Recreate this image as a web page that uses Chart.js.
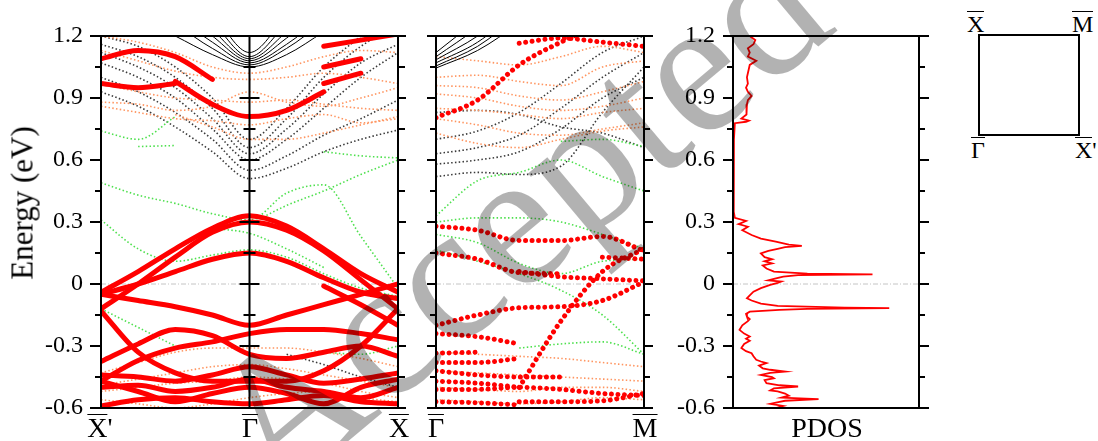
<!DOCTYPE html>
<html>
<head>
<meta charset="utf-8">
<script src="https://cdn.jsdelivr.net/npm/chart.js@4.4.1/dist/chart.umd.min.js"></script>
<style>
body { margin: 0; width: 1098px; height: 441px; overflow: hidden; background: #fff; position: relative; font-family: "Liberation Serif", serif; }
canvas { position: absolute; top: 0; }
.lab { position: absolute; font-size: 28px; line-height: 28px; color: #000; white-space: nowrap; transform: translateX(-50%); }
.bz { position: absolute; font-size: 24px; line-height: 24px; color: #000; white-space: nowrap; }
.ov { display: inline-block; position: relative; }
.lab .ov::before { content: ''; position: absolute; left: 0; right: 0; top: 0px; border-top: 1.6px solid #000; }
.bz .ov::before { content: ''; position: absolute; left: 0; right: 0; top: -1px; border-top: 1.5px solid #000; }
#ylab { position: absolute; left: 22px; top: 203px; font-size: 31px; line-height: 31px; white-space: nowrap; transform: translate(-50%, -50%) rotate(-90deg); }
#bzbox { position: absolute; left: 978px; top: 34px; width: 102px; height: 102px; box-sizing: border-box; border: 2.5px solid #000; }
#wm { position: absolute; left: 515px; top: 215px; font: 195px "Liberation Serif"; color: rgba(0,0,0,0.3); white-space: nowrap; transform: translate(-50%, -50%) rotate(-40deg); pointer-events: none; }
</style>
</head>
<body>
<canvas id="c1" style="left:0px" width="415" height="441"></canvas>
<canvas id="c2" style="left:415px" width="250" height="441"></canvas>
<canvas id="c3" style="left:665px" width="275" height="441"></canvas>

<div id="ylab">Energy (eV)</div>
<div class="lab" style="left:100px;top:414px"><span class="ov">X</span>'</div>
<div class="lab" style="left:250px;top:414px"><span class="ov">Γ</span></div>
<div class="lab" style="left:399px;top:414px"><span class="ov">X</span></div>
<div class="lab" style="left:436px;top:414px"><span class="ov">Γ</span></div>
<div class="lab" style="left:645px;top:414px"><span class="ov">M</span></div>
<div class="lab" style="left:827px;top:414px">PDOS</div>

<div id="bzbox"></div>
<div class="bz" style="left:967px;top:12px"><span class="ov">X</span></div>
<div class="bz" style="left:1072px;top:12px"><span class="ov">M</span></div>
<div class="bz" style="left:971px;top:138px"><span class="ov">Γ</span></div>
<div class="bz" style="left:1075px;top:138px"><span class="ov">X</span>'</div>

<div id="wm">Accepted</div>

<script>
var n = null;

// energy axis
var yTicks = [-0.6, -0.3, 0, 0.3, 0.6, 0.9, 1.2];
var yTickLabels = ['-0.6', '-0.3', '0', '0.3', '0.6', '0.9', '1.2'];

// X' - Gamma - X path
var kXGX = [-1, -0.75, -0.5, -0.25, 0, 0.25, 0.5, 0.75, 1];

var redXGX = [
    [-0.04, 0.06, 0.17, 0.27, 0.33, 0.28, 0.17, 0.05, -0.04],
    [-0.12, 0.0, 0.13, 0.25, 0.30, 0.26, 0.16, 0.02, -0.12],
    [-0.05, 0.0, 0.06, 0.12, 0.15, 0.11, 0.03, -0.04, -0.07],
    [-0.05, -0.08, -0.11, -0.15, -0.20, -0.15, -0.10, -0.05, 0.0],
    [-0.13, -0.33, -0.43, -0.47, -0.47, -0.47, -0.42, -0.30, -0.12],
    [-0.375, -0.29, -0.22, -0.25, -0.34, -0.36, -0.33, -0.30, -0.35],
    [-0.47, -0.37, -0.31, -0.28, -0.24, -0.22, -0.22, -0.24, -0.27],
    [n, n, n, n, n, n, -0.01, -0.10, -0.20],
    [-0.44, -0.45, -0.47, -0.44, -0.40, -0.44, -0.48, -0.46, -0.43],
    [-0.50, -0.49, -0.52, -0.50, -0.46, -0.50, -0.52, -0.55, -0.50],
    [-0.59, -0.56, -0.55, -0.57, -0.58, -0.56, -0.54, -0.57, -0.58],
    [-0.47, -0.52, -0.57, -0.53, -0.50, -0.53, -0.58, -0.50, -0.46],
    [n, n, 0.98, 0.87, 0.81, 0.84, 0.93, n, n],
    [1.09, 1.13, 1.10, 0.99, n, n, n, n, n],
    [0.97, 0.95, 0.97, n, n, n, n, n, n],
    [n, n, n, n, n, n, 1.15, 1.18, 1.21],
    [n, n, n, n, n, n, 1.05, 1.09, n],
    [n, n, n, n, n, n, 0.97, 1.02, n]
];

var blackLineXGX = [
    [n, n, 1.20, 1.11, 1.05, 1.11, 1.22, n, n],
    [n, n, 1.26, 1.14, 1.06, 1.14, 1.27, n, n],
    [n, n, 1.30, 1.17, 1.07, 1.16, 1.30, n, n],
    [n, n, 1.35, 1.20, 1.08, 1.19, 1.34, n, n],
    [n, n, 1.40, 1.23, 1.09, 1.22, 1.38, n, n],
    [n, n, 1.45, 1.27, 1.10, 1.26, 1.43, n, n],
    [n, n, 1.50, 1.31, 1.12, 1.30, 1.48, n, n]
];

var blackDotXGX = [
    [0.93, 0.86, 0.76, 0.64, 0.51, 0.56, 0.64, 0.70, 0.745],
    [1.00, 0.93, 0.83, 0.70, 0.55, 0.62, 0.72, 0.80, 0.89],
    [1.07, 1.00, 0.90, 0.75, 0.60, 0.70, 0.85, 1.00, 1.12],
    [1.12, 1.05, 0.95, 0.80, 0.63, 0.75, 0.92, 1.07, 1.16],
    [1.16, 1.10, 1.00, 0.85, 0.66, 0.80, 1.00, 1.15, 1.25],
    [1.20, 1.15, 1.05, 0.90, 0.70, 0.85, 1.05, 1.20, n],
    [n, n, n, n, n, -0.34, -0.39, -0.45, -0.50]
];

var orangeXGX = [
    [0.88, 0.87, 0.84, 0.86, 0.93, 0.88, 0.86, 0.90, 0.95],
    [0.86, 0.83, 0.80, 0.79, 0.77, 0.80, 0.82, 0.78, 0.80],
    [1.13, 1.08, 1.03, 1.00, 0.99, 1.00, 1.02, 1.00, 0.97],
    [1.20, 1.17, 1.12, 1.05, 1.02, 1.05, 1.10, 1.13, 1.12],
    [0.97, 0.93, 0.90, 0.89, 0.88, 0.89, 0.87, 0.85, 0.84],
    [n, n, 0.82, 0.76, 0.70, 0.70, 0.73, 0.77, 0.81],
    [-0.43, -0.38, -0.33, -0.31, -0.31, -0.31, -0.33, -0.36, -0.40],
    [-0.49, -0.46, -0.43, -0.40, -0.39, -0.41, -0.44, -0.47, -0.50],
    [-0.56, -0.58, -0.60, -0.58, -0.55, -0.53, -0.52, -0.55, -0.57],
    [-0.52, -0.50, -0.48, -0.47, -0.45, -0.46, -0.48, -0.52, -0.55]
];

var greenXGX = [
    [0.31, 0.17, 0.11, 0.14, 0.165, 0.13, 0.05, -0.02, -0.06],
    [0.49, 0.43, 0.39, 0.34, 0.31, 0.44, 0.48, 0.23, -0.02],
    [n, n, n, n, 0.29, 0.38, 0.45, 0.53, 0.60],
    [n, n, n, 0.27, 0.245, 0.17, 0.08, n, n],
    [0.74, 0.70, 0.81, n, n, n, n, n, n],
    [n, 0.665, 0.67, n, n, n, n, n, n],
    [-0.12, -0.21, -0.30, n, n, n, n, n, n],
    [n, n, n, n, n, n, -0.33, -0.34, -0.30],
    [n, n, n, n, n, n, 0.64, 0.62, 0.61]
];

// Gamma - M path
var kGM = [0, 0.2, 0.4, 0.6, 0.8, 1];

var redGM = [
    [0.28, 0.26, 0.21, 0.21, 0.23, 0.16],
    [0.15, 0.12, 0.055, 0.05, n, n],
    [n, n, 0.06, 0.035, 0.025, 0.015],
    [n, n, -0.50, -0.18, 0.06, 0.17],
    [-0.20, -0.15, -0.115, -0.11, -0.08, 0.01],
    [-0.24, -0.255, -0.29, n, n, n],
    [-0.335, -0.33, n, n, n, n],
    [-0.38, -0.38, -0.36, n, n, n],
    [-0.42, -0.44, -0.45, -0.45, n, n],
    [-0.51, -0.51, -0.50, -0.51, -0.53, -0.54],
    [-0.57, -0.575, -0.585, n, n, n],
    [n, n, -0.57, -0.57, -0.565, -0.53],
    [-0.47, -0.48, -0.50, n, n, n],
    [n, n, n, n, 0.13, 0.12],
    [0.805, 0.89, 1.06, 1.17, 1.26, n],
    [n, n, 1.165, 1.19, 1.17, 1.15]
];

var blackLineGM = [
    [1.045, 1.13, 1.26, n, n, n],
    [1.055, 1.15, 1.30, n, n, n],
    [1.07, 1.17, 1.33, n, n, n],
    [1.085, 1.20, 1.36, n, n, n],
    [1.10, 1.24, 1.40, n, n, n],
    [1.12, 1.28, 1.45, n, n, n]
];

var blackDotGM = [
    [0.52, 0.54, 0.53, 0.57, 0.83, 1.05],
    [0.83, 0.84, 0.82, 0.76, 0.73, 0.66],
    [0.58, 0.60, 0.64, 0.75, 0.90, 1.00],
    [0.63, 0.66, 0.72, 0.85, 1.00, 1.12],
    [0.70, 0.74, 0.83, 0.97, 1.12, 1.20]
];

var orangeGM = [
    [1.00, 1.01, 0.98, 0.96, 1.05, 1.08],
    [0.96, 0.95, 0.91, 0.89, 0.93, 0.98],
    [0.92, 0.90, 0.86, 0.84, 0.86, 0.90],
    [0.85, 0.84, 0.82, 0.80, 0.83, 0.85],
    [0.80, 0.77, 0.73, 0.72, 0.75, 0.78],
    [0.73, 0.68, 0.66, 0.70, 0.74, 0.76],
    [1.10, 1.08, 1.06, 1.10, 1.15, 1.12],
    [-0.33, -0.34, -0.35, -0.36, -0.38, -0.40],
    [-0.42, -0.43, -0.44, -0.45, -0.46, -0.47],
    [-0.50, -0.51, -0.52, -0.50, -0.50, -0.52],
    [-0.56, -0.57, -0.58, -0.57, -0.55, -0.56]
];

var greenGM = [
    [n, n, n, 0.69, 0.70, 0.665],
    [0.33, 0.50, 0.54, 0.60, 0.52, 0.45],
    [0.30, 0.32, 0.32, 0.30, 0.24, 0.17],
    [0.24, 0.20, 0.10, 0.05, 0.11, 0.12],
    [0.165, 0.11, 0.05, -0.03, -0.15, -0.34],
    [n, n, -0.31, -0.29, -0.28, -0.34]
];

// projected DOS (arbitrary units)
var pdosEnergy = [1.2, 1.18, 1.16, 1.14, 1.12, 1.10, 1.08, 1.06, 1.04, 1.0, 0.97, 0.95, 0.93, 0.91, 0.89, 0.87, 0.84, 0.82, 0.80, 0.79, 0.785, 0.778,
    0.7, 0.5, 0.35, 0.32, 0.305, 0.29, 0.277, 0.26, 0.237, 0.22, 0.205, 0.19, 0.184, 0.178, 0.17, 0.16, 0.148, 0.13, 0.12, 0.11, 0.10, 0.09, 0.075, 0.06,
    0.05, 0.047, 0.043, 0.036, 0.025, 0.018, 0.012, 0.005, -0.004, -0.02, -0.037, -0.055, -0.069, -0.08, -0.095, -0.106, -0.114, -0.117, -0.12, -0.125,
    -0.134, -0.145, -0.158, -0.17, -0.18, -0.2, -0.222, -0.24, -0.254, -0.265, -0.275, -0.29, -0.31, -0.325, -0.335, -0.35, -0.367, -0.375, -0.383,
    -0.395, -0.408, -0.415, -0.424, -0.43, -0.44, -0.45, -0.456, -0.465, -0.48, -0.49, -0.496, -0.505, -0.515, -0.52, -0.53, -0.54, -0.55, -0.557,
    -0.565, -0.57, -0.58, -0.59, -0.6];
var pdosValue = [9, 12, 11, 8, 9, 8, 12.5, 9, 8.5, 7.5, 8, 7, 8, 10, 8, 7.5, 7, 7.5, 4.5, 8.5, 7, 1,
    0.5, 0.3, 0.5, 1, 7, 3, 8, 5, 10, 15, 23, 30, 37, 28, 24, 19, 15, 17, 21, 17, 21, 16, 18, 22,
    40, 75, 35, 27, 22, 19, 26, 24, 20, 15, 11, 9, 7.5, 10, 15, 24, 60, 84, 40, 25,
    9, 7, 7.5, 9, 8, 5, 3.5, 6, 9, 7, 9, 6, 4.5, 7, 10, 11, 12.5, 15, 18,
    14, 16, 20, 28, 20, 15, 21, 22, 17, 18, 25, 35, 22, 20, 24, 28, 30, 26, 46,
    28, 25, 20, 27, 23];

var RED = '#ff0000';
var ORANGE = '#ff9560';
var GREEN = '#4ee04e';
var GREY = '#3a3a3a';

function bandSets(k, list, style) {
    return list.map(function (b) {
        return Object.assign({
            data: b.map(function (e, i) { return {x: k[i], y: e}; }),
            showLine: true,
            pointRadius: 0,
            spanGaps: false,
            cubicInterpolationMode: 'monotone'
        }, style);
    });
}

var dotted = function (c) { return {borderColor: c, borderWidth: 1.6, borderDash: [1.5, 2.3]}; };

var allTicks = [];
for (var i = 0; i < yTicks.length; i++) {
    allTicks.push(yTicks[i]);
    if (i < yTicks.length - 1) allTicks.push((yTicks[i] + yTicks[i + 1]) / 2);
}

var framePlugin = {
    id: 'frame',
    beforeDatasetsDraw: function (chart) {
        var ctx = chart.ctx, a = chart.chartArea, y0 = chart.scales.y.getPixelForValue(0);
        ctx.save();
        ctx.strokeStyle = '#c4c4c4';
        ctx.lineWidth = 1;
        ctx.setLineDash([5, 2, 1, 2]);
        ctx.beginPath();
        ctx.moveTo(a.left, y0);
        ctx.lineTo(a.right, y0);
        ctx.stroke();
        ctx.restore();
    },
    afterDraw: function (chart, args, opts) {
        var ctx = chart.ctx, a = chart.chartArea, x = chart.scales.x, y = chart.scales.y;
        ctx.save();
        ctx.strokeStyle = '#000';
        ctx.lineWidth = 2;
        ctx.strokeRect(a.left, a.top, a.right - a.left, a.bottom - a.top);
        (opts.edges || []).forEach(function (e) {
            var px = x.getPixelForValue(e.k);
            if (e.line) {
                ctx.beginPath();
                ctx.moveTo(px, a.top);
                ctx.lineTo(px, a.bottom);
                ctx.stroke();
            }
            allTicks.forEach(function (v, i) {
                var py = y.getPixelForValue(v);
                var len = i % 2 === 0 ? e.major : e.minor;
                ctx.beginPath();
                ctx.moveTo(px - (e.l ? len : 0), py);
                ctx.lineTo(px + (e.r ? len : 0), py);
                ctx.stroke();
            });
        });
        ctx.restore();
    }
};

function yScale(show, width) {
    return {
        type: 'linear', min: -0.6, max: 1.2, display: show,
        afterBuildTicks: function (s) { s.ticks = yTicks.map(function (v) { return {value: v}; }); },
        afterFit: function (s) { s.width = width; },
        grid: {display: false, drawTicks: false},
        border: {display: false},
        ticks: {
            padding: 18, color: '#000',
            font: {family: 'Liberation Serif', size: 24},
            callback: function (v, i) { return yTickLabels[i]; }
        }
    };
}

function makeChart(id, datasets, xmin, xmax, yShow, yWidth, padding, edges) {
    return new Chart(document.getElementById(id), {
        type: 'scatter',
        data: {datasets: datasets},
        options: {
            responsive: false,
            animation: false,
            devicePixelRatio: 1,
            events: [],
            layout: {padding: padding},
            scales: {
                x: {type: 'linear', min: xmin, max: xmax, display: false},
                y: yScale(yShow, yWidth)
            },
            plugins: {legend: {display: false}, tooltip: {enabled: false}, frame: {edges: edges}}
        },
        plugins: [framePlugin]
    });
}

var sets1 = [].concat(
    bandSets(kXGX, redXGX, {borderColor: RED, borderWidth: 5, borderCapStyle: 'round'}),
    bandSets(kXGX, blackLineXGX, {borderColor: '#000', borderWidth: 1}),
    bandSets(kXGX, greenXGX, dotted(GREEN)),
    bandSets(kXGX, orangeXGX, dotted(ORANGE)),
    bandSets(kXGX, blackDotXGX, dotted(GREY))
);
makeChart('c1', sets1, -1, 1, true, 101, {left: 0, right: 17, top: 36, bottom: 33}, [
    {k: -1, l: true, r: false, major: 11, minor: 6},
    {k: 0, l: true, r: true, major: 10, minor: 6, line: true},
    {k: 1, l: false, r: true, major: 8, minor: 7}
]);

var sets2 = [].concat(
    bandSets(kGM, redGM, {borderColor: RED, borderWidth: 5, borderCapStyle: 'round', borderDash: [0.01, 6.5]}),
    bandSets(kGM, blackLineGM, {borderColor: '#000', borderWidth: 1}),
    bandSets(kGM, greenGM, dotted(GREEN)),
    bandSets(kGM, orangeGM, dotted(ORANGE)),
    bandSets(kGM, blackDotGM, dotted(GREY))
);
makeChart('c2', sets2, 0, 1, false, 0, {left: 21, right: 21, top: 36, bottom: 33}, [
    {k: 0, l: true, r: false, major: 9, minor: 6},
    {k: 1, l: false, r: true, major: 9, minor: 6}
]);

var sets3 = [{
    data: pdosEnergy.map(function (e, i) { return {x: pdosValue[i], y: e}; }),
    showLine: true, pointRadius: 0, borderColor: RED, borderWidth: 1.8, tension: 0
}];
makeChart('c3', sets3, 0, 100, true, 68, {left: 0, right: 21, top: 36, bottom: 33}, [
    {k: 0, l: true, r: false, major: 10, minor: 6},
    {k: 100, l: false, r: true, major: 10, minor: 6}
]);
</script>
</body>
</html>
